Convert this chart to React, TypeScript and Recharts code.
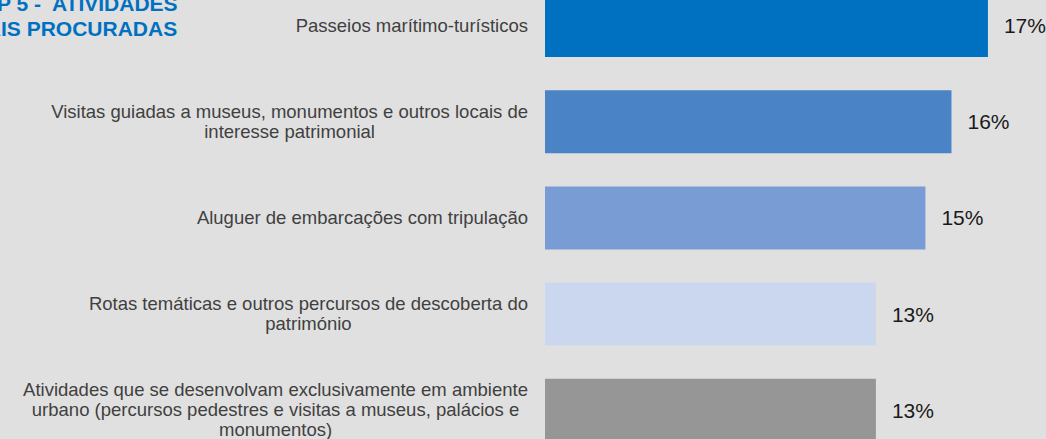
import React from "react";
import { BarChart, Bar, XAxis, YAxis, Cell, LabelList } from "recharts";

const categories = [
  "Passeios marítimo-turísticos",
  "Visitas guiadas a museus, monumentos e outros locais de\ninteresse patrimonial",
  "Aluguer de embarcações com tripulação",
  "Rotas temáticas e outros percursos de descoberta do\npatrimónio",
  "Atividades que se desenvolvam exclusivamente em ambiente\nurbano (percursos pedestres e visitas a museus, palácios e\nmonumentos)",
];
const shares = [17.0, 15.6, 14.6, 12.7, 12.7];
const barColors = ["#0070c0", "#4a84c6", "#789cd3", "#cbd7ef", "#969696"];
const titleLines = ["TOP 5 -  ATIVIDADES", "MAIS PROCURADAS"];

const data = categories.map((name, i) => ({ name, value: shares[i] }));

const FONT = "Arial, 'Liberation Sans', sans-serif";
const LABEL_SIZE = 18.5;
const LABEL_RIGHT = 528;

let ctx: CanvasRenderingContext2D | null = null;
const measure = (s: string) => {
  if (!ctx) {
    ctx = document.createElement("canvas").getContext("2d");
  }
  if (!ctx) return s.length * 9;
  ctx.font = `${LABEL_SIZE}px Arial, 'Liberation Sans', sans-serif`;
  return ctx.measureText(s).width;
};

const CategoryTick = (props: any) => {
  const { y, payload } = props;
  const lines: string[] = String(payload.value).split("\n");
  const w = Math.max(...lines.map(measure));
  const cx = LABEL_RIGHT - w / 2;
  return (
    <text
      x={cx}
      y={y}
      textAnchor="middle"
      fill="#404040"
      fontSize={LABEL_SIZE}
      fontFamily={FONT}
    >
      {lines.map((line, i) => (
        <tspan
          key={i}
          x={cx}
          y={y + (i - (lines.length - 1) / 2) * 20}
          dominantBaseline="central"
        >
          {line}
        </tspan>
      ))}
    </text>
  );
};

export default function App() {
  return (
    <div
      style={{
        position: "absolute",
        left: 0,
        top: 0,
        width: 1046,
        height: 439,
        overflow: "hidden",
        background: "#e0e0e0",
        fontFamily: FONT,
      }}
    >
      <div
        style={{
          position: "absolute",
          left: -31.7,
          top: -9.5,
          color: "#0070c0",
          fontWeight: "bold",
          fontSize: 21,
          lineHeight: "25px",
          whiteSpace: "pre",
        }}
      >
        {titleLines.join("\n")}
      </div>
      <div style={{ position: "absolute", left: 0, top: -23.5 }}>
        <BarChart
          layout="vertical"
          width={1046}
          height={481}
          data={data}
          margin={{ top: 0, right: 32, bottom: 0, left: 0 }}
          barSize={63}
        >
          <XAxis type="number" domain={[0, 18]} hide />
          <YAxis
            type="category"
            dataKey="name"
            width={545}
            axisLine={false}
            tickLine={false}
            interval={0}
            tick={<CategoryTick />}
          />
          <Bar dataKey="value" isAnimationActive={false}>
            {data.map((d, i) => (
              <Cell key={d.name} fill={barColors[i]} />
            ))}
            <LabelList
              dataKey="value"
              position="right"
              offset={16}
              formatter={(v: any) => `${Math.round(Number(v))}%`}
              fill="#1a1a1a"
              fontSize={21}
              fontFamily={FONT}
            />
          </Bar>
        </BarChart>
      </div>
    </div>
  );
}
